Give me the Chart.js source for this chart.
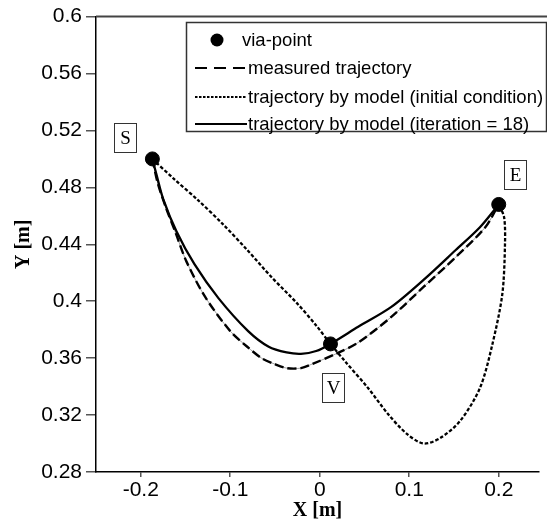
<!DOCTYPE html>
<html><head><meta charset="utf-8">
<script src="https://cdn.jsdelivr.net/npm/chart.js@4.4.0/dist/chart.umd.min.js"></script>
<style>html,body{margin:0;padding:0;background:#fff;}#wrap{width:547px;height:523px;position:relative;}</style>
</head><body><div id="wrap"><canvas id="c"></canvas></div>
<script>
const xTicks = [-0.2, -0.1, 0, 0.1, 0.2];
const yTicks = [0.28, 0.32, 0.36, 0.4, 0.44, 0.48, 0.52, 0.56, 0.6];
const seriesLabels = ['via-point', 'measured trajectory', 'trajectory by model (initial condition)', 'trajectory by model (iteration = 18)'];
const viaNames = ['S', 'V', 'E'];
const viaX = [-0.187, 0.012, 0.200];
const viaY = [0.500, 0.370, 0.468];
const measuredX = [-0.187,-0.181,-0.172,-0.161,-0.149,-0.128,-0.100,-0.081,-0.065,-0.051,-0.037,-0.021,-0.008,0.018,0.043,0.080,0.116,0.152,0.185,0.200];
const measuredY = [0.500,0.483,0.466,0.448,0.428,0.403,0.379,0.368,0.360,0.356,0.353,0.353,0.356,0.363,0.371,0.389,0.410,0.431,0.452,0.468];
const initialX = [-0.187,-0.163,-0.136,-0.108,-0.081,-0.054,-0.026,-0.004,0.012,0.028,0.054,0.076,0.097,0.116,0.135,0.157,0.179,0.193,0.204,0.207,0.206,0.200];
const initialY = [0.500,0.486,0.471,0.454,0.436,0.417,0.399,0.383,0.370,0.358,0.339,0.321,0.307,0.300,0.304,0.316,0.339,0.370,0.405,0.440,0.459,0.468];
const iterX = [-0.187,-0.182,-0.175,-0.160,-0.140,-0.113,-0.080,-0.057,-0.037,-0.021,-0.004,0.012,0.043,0.080,0.116,0.152,0.179,0.200];
const iterY = [0.500,0.488,0.472,0.449,0.426,0.402,0.379,0.368,0.364,0.363,0.365,0.370,0.382,0.396,0.415,0.436,0.452,0.468];

const pts = (xs, ys) => xs.map((v, i) => ({x: v, y: ys[i]}));

// label box offsets (pixels) relative to the via-points
const labelOffset = [[-27, -21], [3, 44], [16, -29]];

const decor = {
  id: 'decor',
  afterDatasetsDraw(chart) {
    const {ctx, chartArea: a, scales: {x, y}} = chart;
    ctx.save();
    ctx.strokeStyle = '#444'; ctx.lineWidth = 2;
    ctx.beginPath(); ctx.moveTo(a.left, a.top); ctx.lineTo(chart.width, a.top); ctx.stroke();
    ctx.font = '19px "Liberation Serif"'; ctx.textAlign = 'center'; ctx.textBaseline = 'middle';
    viaNames.forEach((n, i) => {
      const px = Math.round(x.getPixelForValue(viaX[i]) + labelOffset[i][0]);
      const py = Math.round(y.getPixelForValue(viaY[i]) + labelOffset[i][1]);
      ctx.fillStyle = '#fff'; ctx.fillRect(px - 11, py - 15, 22, 29);
      ctx.strokeStyle = '#333'; ctx.lineWidth = 1;
      ctx.strokeRect(px - 10.5, py - 14.5, 22, 29);
      ctx.fillStyle = '#000'; ctx.fillText(n, px + 0.5, py + 1);
    });
    const L = {x: 186, y: 22, w: 360, h: 109};
    ctx.fillStyle = '#fff'; ctx.fillRect(L.x, L.y, L.w, L.h);
    ctx.strokeStyle = '#333'; ctx.lineWidth = 1.5;
    ctx.strokeRect(L.x + 0.5, L.y + 0.5, L.w, L.h);
    const rows = [40, 68, 97, 124];
    const s0 = 195, s1 = 247;
    ctx.strokeStyle = '#000'; ctx.fillStyle = '#000';
    ctx.beginPath(); ctx.arc(217, rows[0], 6.5, 0, Math.PI * 2); ctx.fill();
    ctx.lineWidth = 2.2; ctx.setLineDash([12, 7]);
    ctx.beginPath(); ctx.moveTo(s0, rows[1]); ctx.lineTo(s1, rows[1]); ctx.stroke();
    ctx.lineWidth = 2.2; ctx.setLineDash([2.5, 1.5]);
    ctx.beginPath(); ctx.moveTo(s0, rows[2]); ctx.lineTo(s1, rows[2]); ctx.stroke();
    ctx.lineWidth = 2.2; ctx.setLineDash([]);
    ctx.beginPath(); ctx.moveTo(s0, rows[3]); ctx.lineTo(s1, rows[3]); ctx.stroke();
    ctx.font = '18.5px "Liberation Sans"'; ctx.textAlign = 'left'; ctx.textBaseline = 'middle';
    const tx = [242, 248, 248, 248];
    seriesLabels.forEach((t, i) => ctx.fillText(t, tx[i], rows[i] + 1));
    ctx.restore();
  }
};

const tickFont = {family: '"Liberation Sans", Arial, sans-serif', size: 21};
const titleFont = {family: '"Liberation Serif", "Times New Roman", serif', size: 20, weight: 'bold'};

new Chart(document.getElementById('c'), {
  type: 'scatter',
  data: {
    datasets: [
      {label: seriesLabels[0], data: pts(viaX, viaY), pointRadius: 7, pointBackgroundColor: '#000', pointBorderColor: '#000', showLine: false},
      {label: seriesLabels[1], data: pts(measuredX, measuredY), showLine: true, borderColor: '#000', borderWidth: 2.4, borderDash: [9, 4], pointRadius: 0, tension: 0.3},
      {label: seriesLabels[2], data: pts(initialX, initialY), showLine: true, borderColor: '#000', borderWidth: 2.3, borderDash: [3.5, 2], pointRadius: 0, tension: 0.3},
      {label: seriesLabels[3], data: pts(iterX, iterY), showLine: true, borderColor: '#000', borderWidth: 2.3, pointRadius: 0, tension: 0.3},
      {label: 'measured-thin', data: pts(measuredX, measuredY), showLine: true, borderColor: '#888', borderWidth: 0.8, pointRadius: 0, tension: 0.3}
    ]
  },
  options: {
    responsive: true, maintainAspectRatio: false, animation: false,
    layout: {padding: {top: 15, right: 0, left: 0, bottom: 0}},
    plugins: {legend: {display: false}, tooltip: {enabled: false}},
    scales: {
      x: {
        type: 'linear', min: -0.25, max: 0.245,
        afterBuildTicks: s => { s.ticks = xTicks.map(v => ({value: v})); },
        afterFit: s => { s.height = 51; },
        grid: {drawOnChartArea: false, drawTicks: true, tickLength: 5, color: '#555', lineWidth: 1.5},
        border: {display: true, color: '#000', width: 1.5},
        ticks: {color: '#000', font: tickFont, padding: 1, maxRotation: 0, callback: v => String(v)},
        title: {display: true, text: 'X [m]', color: '#000', font: titleFont, padding: {top: 0, bottom: 0}}
      },
      y: {
        type: 'linear', min: 0.28, max: 0.6,
        afterBuildTicks: s => { s.ticks = yTicks.map(v => ({value: v})); },
        afterFit: s => { s.width = 96; },
        grid: {drawOnChartArea: false, drawTicks: true, tickLength: 10, color: '#555', lineWidth: 1.5},
        border: {display: true, color: '#000', width: 1.5},
        ticks: {color: '#000', font: tickFont, padding: 4, callback: v => String(v)},
        title: {display: true, text: 'Y [m]', color: '#000', font: titleFont, padding: {top: 12, bottom: 0}}
      }
    }
  },
  plugins: [decor]
});
</script></body></html>
